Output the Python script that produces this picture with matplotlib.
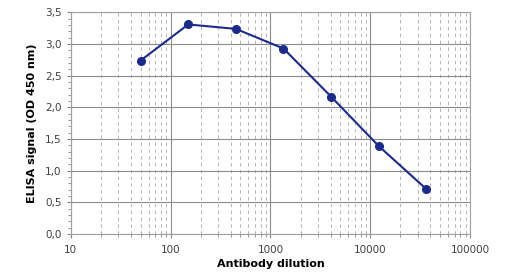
import matplotlib
matplotlib.use("Agg")
import matplotlib.pyplot as plt
from matplotlib.ticker import LogLocator, FixedLocator, MultipleLocator, FuncFormatter, NullFormatter

dilution = [50, 150, 450, 1350, 4050, 12150, 36450]
signal = [2.74, 3.31, 3.24, 2.93, 2.17, 1.39, 0.71]
x_ticks = [10, 100, 1000, 10000, 100000]
y_ticks = [0.0, 0.5, 1.0, 1.5, 2.0, 2.5, 3.0, 3.5]

fig = plt.figure(figsize=(5.06, 2.76), dpi=100)
ax = fig.add_axes([0.140, 0.152, 0.789, 0.803])

ax.set_xscale("log")
ax.set_xlim(10, 100000)
ax.set_ylim(0, 3.5)

ax.xaxis.set_major_locator(FixedLocator(x_ticks))
ax.xaxis.set_major_formatter(FuncFormatter(lambda v, p: f"{int(round(v))}"))
ax.xaxis.set_minor_locator(LogLocator(base=10, subs=range(2, 10), numticks=20))
ax.xaxis.set_minor_formatter(NullFormatter())
ax.yaxis.set_major_locator(FixedLocator(y_ticks))
ax.yaxis.set_major_formatter(FuncFormatter(lambda v, p: f"{v:.1f}".replace(".", ",")))
ax.yaxis.set_minor_locator(MultipleLocator(0.1))

ax.grid(which="major", axis="both", color="#8c8c8c", linewidth=0.8, linestyle="-")
ax.grid(which="minor", axis="x", color="#b4b4b4", linewidth=0.7, linestyle=(0, (3.5, 3.5)))
ax.set_axisbelow(True)

for s in ax.spines.values():
    s.set_color("#a0a0a0")
    s.set_linewidth(0.8)

ax.tick_params(axis="both", which="major", labelsize=7.5, colors="#404040", length=3, color="#888888")
ax.tick_params(axis="both", which="minor", length=2, color="#888888")
ax.tick_params(axis="x", which="major", pad=5)

ax.plot(dilution, signal, color="#1c2a8c", linewidth=1.5, marker="o", markersize=5.5, zorder=3)

ax.set_xlabel("Antibody dilution", fontsize=8, fontweight="bold", labelpad=3)
ax.set_ylabel("ELISA signal (OD 450 nm)", fontsize=8, fontweight="bold", labelpad=6)

fig.savefig("out.png", dpi=100, facecolor="white")
